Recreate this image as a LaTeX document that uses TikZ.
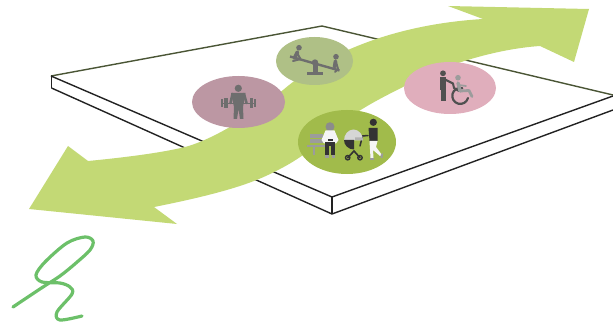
\documentclass[tikz,border=0pt]{standalone}
\definecolor{arrowg}{HTML}{C3D975}
\definecolor{sig}{HTML}{6CC069}
\definecolor{edgeb}{HTML}{4A5535}
\definecolor{edgef}{HTML}{222222}
\definecolor{ica}{HTML}{6E6E6E}
\definecolor{icd}{HTML}{505050}
\definecolor{icl}{HTML}{9C9C9C}
\definecolor{ick}{HTML}{333333}
\definecolor{disca}{RGB}{188,151,163}
\definecolor{discb}{RGB}{175,192,134}
\definecolor{discc}{RGB}{224,174,188}
\definecolor{discd}{RGB}{161,187,75}
\tikzset{
  backedge/.style={draw=edgeb,line width=1.4pt},
  frontedge/.style={draw=edgef,line width=1.4pt},
  limb/.style={line width=#1,line cap=round,line join=round},
  limb/.default=2.4pt
}
\begin{document}
\begin{tikzpicture}[x=1pt,y=-1pt]
\useasboundingbox (0,0) rectangle (613,326);
% plate
\draw[backedge] (51,76) -- (322,26) -- (613,95);
\draw[frontedge] (51,76) -- (332,197) -- (613,96);
\draw[frontedge] (51.5,88) -- (332,214) -- (613,110);
\draw[frontedge] (51.5,76) -- (51.5,88);
\draw[frontedge] (332,197) -- (332,214);
% arrow
\fill[arrowg] (483,19) -- (448,6) -- (589,9) -- (574,62) -- (540,46)
  .. controls (495,49) and (440,66) .. (403,87)
  .. controls (375,101) and (355,112) .. (340,125)
  .. controls (315,148) and (295,162) .. (274,172)
  .. controls (255,182) and (225,193) .. (154,207)
  -- (177,224) -- (29,209) -- (68,146) -- (88,161)
  .. controls (130,157) and (165,152) .. (185,147)
  .. controls (215,139) and (255,113) .. (283,90)
  .. controls (330,50) and (400,24) .. (483,19) -- cycle;
% discs
\fill[disca] (238.5,102) ellipse (46.5 and 26);
\fill[discb] (314.5,61) ellipse (38.5 and 24);
\fill[discc] (450,88) ellipse (46 and 26);
\fill[discd] (347,142) ellipse (49 and 32);
% weightlifter
\fill[ica] (238.3,88.3) circle (3.6);
\fill[ica] (231,93) -- (245.5,93) -- (243,107) -- (243.5,119) -- (240,119) -- (238.5,109) -- (237,119) -- (233.5,119) -- (234,107) -- cycle;
\draw[ica,limb=2.6pt] (232.5,94) -- (230.5,103);
\draw[ica,limb=2.6pt] (244,94) -- (246.5,103);
\draw[ica,line width=1.4pt] (223,103.3) -- (254,103.3);
\fill[ica] (220.7,99.5) rectangle (223.2,107);
\fill[ica] (224,98) rectangle (227.5,108.5);
\fill[ica] (249.5,98) rectangle (253,108.5);
\fill[ica] (253.7,99.5) rectangle (256,107);
% seesaw
\draw[ica,line width=2.4pt] (290,56.5) -- (339.5,70.5);
\fill[ica] (315,62.5) circle (3.2);
\fill[ica] (312.5,63) rectangle (317.5,73);
\fill[ica] (306.7,72.2) rectangle (323.3,74.6);
\fill[ica] (299,47.7) circle (2.8);
\draw[ica,limb=3.6pt] (297.5,52) -- (294.5,58);
\draw[ica,limb=2pt] (297,53) -- (300.5,59) -- (293,61);
\fill[ica] (336,56.7) circle (2.8);
\draw[ica,limb=3.6pt] (335.5,61) -- (334.5,67);
\draw[ica,limb=2pt] (336,62) -- (338,69) -- (335,72);
% wheelchair
\fill[icd] (443,73.3) circle (2.9);
\fill[icd] (440.3,77.3) rectangle (445.5,90);
\fill[icd] (441,90) rectangle (446,101.5);
\draw[icd,limb=2.2pt] (444,79) -- (453,83.5);
\draw[icd,limb=2pt] (453,83.5) -- (454,88) -- (459,91);
\draw[icd,limb=2.2pt] (468,98) arc (15:285:8);
\fill[icl] (458,77.7) circle (2.8);
\draw[icl,limb=3.4pt] (458,83) -- (460,91);
\draw[icl,limb=2.8pt] (460,91) -- (469,90.5) -- (472,96.5);
\draw[icl,limb=1.8pt] (458,85) -- (466,86);
% bench and sitter
\fill[icl] (310,134) rectangle (323,138.5);
\fill[icl] (310,139.5) rectangle (323,143.5);
\fill[icl] (306.5,145) rectangle (326,146.8);
\fill[icl] (313,146) rectangle (315,155.5);
\fill[color=black!45] (330,126.7) circle (4.5);
\fill[white!96!black] (325.5,130.5) -- (334.5,130.5) -- (338.5,140) -- (336,143.5) -- (324,143.5) -- (321.5,140) -- cycle;
\fill[ick] (325,142.5) rectangle (335,146);
\fill[ick] (325,145) rectangle (329.4,155.5);
\fill[ick] (330.6,145) rectangle (335,155.5);
\fill[icl] (325,155.5) rectangle (328.5,158);
\fill[icl] (331.5,155.5) rectangle (335,158);
\fill[ick] (327.5,139) rectangle (332.5,141);
% stroller
\draw[ick,limb=1.6pt] (354,151) -- (347.7,157.7);
\draw[ick,limb=1.6pt] (354,151) -- (360,157.7);
\draw[ick,line width=1.4pt] (347.7,157.7) circle (2.2);
\draw[ick,line width=1.4pt] (360,157.7) circle (2.2);
\draw[ick,limb=1.5pt] (360,146) -- (362.5,136) -- (368,135.5);
\fill[white!84!black] (344,140.5) -- (363,140.5) arc (0:-180:9.5 and 11) -- cycle;
\fill[ick] (344,140) arc (180:90:10 and 9.5) -- (354,140) -- cycle;
\fill[white!70!black] (355,137.5) -- (362,137.5) -- (363,140) -- (355,140) -- cycle;
% walker
\fill[ick] (373.3,122.3) circle (3.6);
\fill[ick] (368.5,128) -- (377.5,128) -- (377.5,141) -- (369.5,141) -- cycle;
\fill[white!96!black] (369.5,141) -- (377.5,141) -- (376,147) -- (382,155) -- (380,156) -- (373,150) -- (373.5,158) -- (370.5,158) -- cycle;
\fill[icl] (370,158) rectangle (374,160);
\fill[icl] (380.5,155) -- (383,153) -- (382.5,158) -- (380.5,158) -- cycle;
% signature
\draw[sig,line width=3.2pt,line cap=round,line join=round]
  plot[smooth,tension=0.55] coordinates {(13,307) (43,287) (60,276) (76,263) (90,250) (93,241) (85,237) (67,243) (45,262) (36,275) (42,282) (60,283) (70,287) (72,294) (57,312) (60,320) (82,316)};
\end{tikzpicture}
\end{document}
